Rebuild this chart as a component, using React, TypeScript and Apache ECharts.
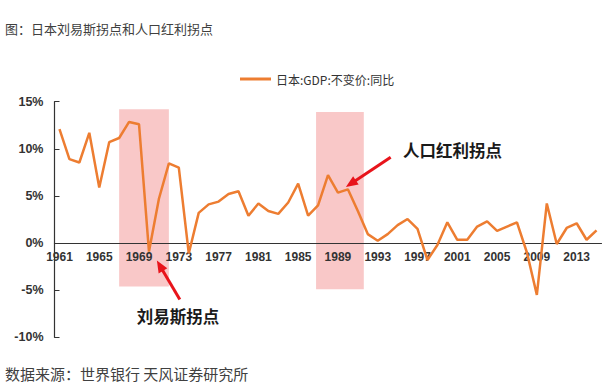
import React, { useEffect, useRef } from "react";
import * as echarts from "echarts";

const years: string[] = [];
for (let y = 1961; y <= 2015; y++) years.push(String(y));

const gdpGrowth = [
  12.1, 8.9, 8.55, 11.7, 5.9, 10.7, 11.15, 12.85, 12.6, -0.9,
  4.7, 8.45, 8.0, -1.1, 3.2, 4.1, 4.4, 5.2, 5.5, 2.9,
  4.2, 3.4, 3.1, 4.3, 6.3, 2.9, 4.0, 7.2, 5.35, 5.7,
  3.4, 0.95, 0.25, 0.95, 1.9, 2.55, 1.5, -1.8, -0.2, 2.2,
  0.35, 0.35, 1.75, 2.3, 1.3, 1.75, 2.2, -1.0, -5.5, 4.2,
  -0.1, 1.6, 2.1, 0.35, 1.35,
];

const seriesName = "日本:GDP:不变价:同比";
const yMin = -10;
const yMax = 15;
const yTicks = [-10, -5, 0, 5, 10, 15];

// shaded turning-point periods (year units, % units)
const shadeStart = [1967.0, 1986.8];
const shadeEnd = [1972.0, 1991.6];
const shadeTop = [14.2, 13.9];
const shadeBottom = [-4.6, -4.9];

// arrows (year, %) tail -> head
const arrowTail = [[1973.1, -6.0], [1994.3, 9.1]];
const arrowHead = [[1971.1, -2.4], [1990.3, 6.3]];

const labelLewis = "刘易斯拐点";
const labelDividend = "人口红利拐点";
const titleText = "图：日本刘易斯拐点和人口红利拐点";
const sourceText = "数据来源：世界银行 天风证券研究所";

export default function App() {
  const ref = useRef<HTMLDivElement>(null);
  useEffect(() => {
    if (!ref.current) return;
    const chart = echarts.init(ref.current, undefined, { renderer: "svg" });
    const axisFont = "'Liberation Sans', Arial, sans-serif";
    const cjkFont = "'Noto Sans CJK SC', 'Noto Sans', sans-serif";
    const H = 390;
    const gTop = 101.7;
    const gBottom = 52.7;
    const plotH = H - gTop - gBottom;
    // move the category axis up to the 0% line
    const zeroOffset = -(plotH * (0 - yMin)) / (yMax - yMin);
    const gridBox = { left: 54.5, right: 7.5, top: gTop, bottom: gBottom, containLabel: false };
    chart.setOption({
      animation: false,
      backgroundColor: "#ffffff",
      grid: [{ ...gridBox }, { ...gridBox }],
      legend: {
        data: [seriesName],
        left: 240,
        top: 73,
        padding: 0,
        icon: "rect",
        itemWidth: 31,
        itemHeight: 3,
        itemGap: 6,
        textStyle: { fontSize: 12, color: "#333", fontFamily: cjkFont },
      },
      xAxis: [
        {
          type: "category",
          gridIndex: 0,
          z: 2,
          data: years,
          position: "bottom",
          offset: zeroOffset,
          boundaryGap: true,
          axisLine: { onZero: false, lineStyle: { color: "#333", width: 1.2 } },
          axisTick: { inside: true, length: 5, interval: 3, lineStyle: { color: "#333" } },
          axisLabel: {
            interval: 3,
            margin: 8,
            fontSize: 12,
            fontWeight: "bold",
            color: "#333",
            fontFamily: axisFont,
          },
          splitLine: { show: false },
        },
        {
          type: "value",
          gridIndex: 1,
          min: 1960.5,
          max: 2015.5,
          show: false,
        },
      ],
      yAxis: [
        {
          type: "value",
          gridIndex: 0,
          z: 2,
          min: yMin,
          max: yMax,
          interval: 5,
          axisLine: { show: true, onZero: false, lineStyle: { color: "#333", width: 1.2 } },
          axisTick: { show: true, inside: true, length: 5, lineStyle: { color: "#333" } },
          axisLabel: {
            margin: 11,
            fontSize: 12.5,
            fontWeight: "bold",
            color: "#333",
            fontFamily: axisFont,
            formatter: (v: number) => (yTicks.includes(v) ? v + "%" : ""),
          },
          splitLine: { show: false },
        },
        {
          type: "value",
          gridIndex: 1,
          min: yMin,
          max: yMax,
          show: false,
        },
      ],
      series: [
        {
          type: "custom",
          name: "shade",
          xAxisIndex: 1,
          yAxisIndex: 1,
          z: 1,
          silent: true,
          encode: { x: [0, 1], y: [2, 3] },
          data: shadeStart.map((s, i) => [s, shadeEnd[i], shadeTop[i], shadeBottom[i]]),
          renderItem: (params: any, api: any) => {
            const p1 = api.coord([api.value(0), api.value(2)]);
            const p2 = api.coord([api.value(1), api.value(3)]);
            return {
              type: "rect",
              shape: { x: p1[0], y: p1[1], width: p2[0] - p1[0], height: p2[1] - p1[1] },
              style: { fill: "#F9C8C8" },
            };
          },
          markLine: {
            silent: true,
            symbol: ["none", "triangle"],
            symbolSize: [10, 12],
            label: { show: false },
            lineStyle: { color: "#E8141B", width: 3, type: "solid" },
            data: arrowTail.map((t, i) => [
              { coord: t },
              { coord: arrowHead[i] },
            ]),
          },
        },
        {
          type: "line",
          name: seriesName,
          xAxisIndex: 0,
          yAxisIndex: 0,
          data: gdpGrowth,
          z: 3,
          showSymbol: false,
          symbol: "none",
          lineStyle: { color: "#ED7D31", width: 2.5 },
          itemStyle: { color: "#ED7D31" },
        },
      ],
      graphic: [
        {
          type: "text",
          left: 5,
          top: 22,
          style: { text: titleText, fontSize: 13, fill: "#404040", fontFamily: cjkFont },
        },
        {
          type: "text",
          left: 5,
          top: 366,
          style: { text: sourceText, fontSize: 15, fill: "#404040", fontFamily: cjkFont },
        },
        {
          type: "text",
          x: 178,
          y: 316,
          style: {
            text: labelLewis,
            fontSize: 16.5,
            fontWeight: "bold",
            fill: "#1a1a1a",
            fontFamily: cjkFont,
            textAlign: "center",
            textVerticalAlign: "middle",
          },
        },
        {
          type: "text",
          x: 403,
          y: 149.5,
          style: {
            text: labelDividend,
            fontSize: 16.5,
            fontWeight: "bold",
            fill: "#1a1a1a",
            fontFamily: cjkFont,
            textAlign: "left",
            textVerticalAlign: "middle",
          },
        },
      ],
    });
    return () => chart.dispose();
  }, []);
  return (
    <div
      ref={ref}
      style={{ position: "fixed", left: 0, top: 0, width: 609, height: 390, background: "#fff" }}
    />
  );
}
